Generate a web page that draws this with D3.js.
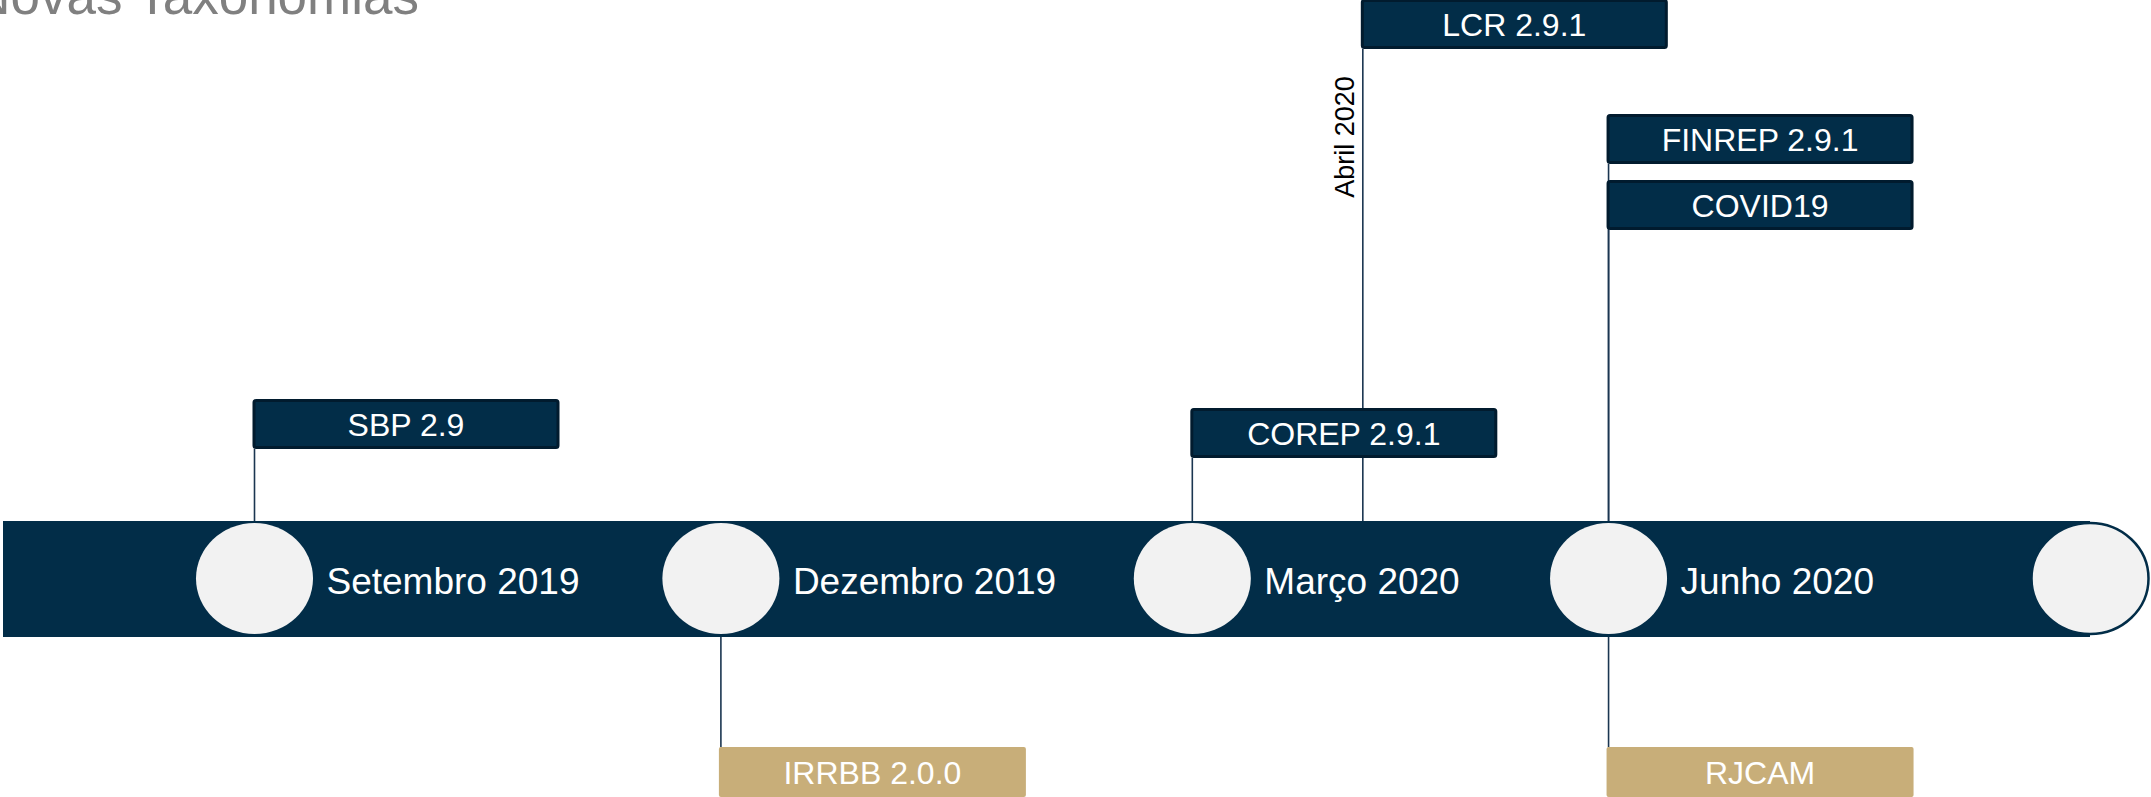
<!DOCTYPE html>
<html>
<head>
<meta charset="utf-8">
<script src="https://cdn.jsdelivr.net/npm/d3@7"></script>
<style>
  html, body { margin: 0; padding: 0; background: #fff; overflow: hidden; }
  svg { display: block; font-family: "Liberation Sans", Arial, sans-serif; }
</style>
</head>
<body>
<script>
// timeline milestones (circles on the band)
const milestoneLabels = ["Setembro 2019", "Dezembro 2019", "Março 2020", "Junho 2020", ""];
const milestoneDates = ["2019-09-01", "2019-12-03", "2020-03-06", "2020-05-28", "2020-09-01"];

// taxonomy releases hanging off the timeline
const eventNames = ["SBP 2.9", "IRRBB 2.0.0", "COREP 2.9.1", "LCR 2.9.1", "FINREP 2.9.1", "COVID19", "RJCAM"];
const eventDates = ["2019-09-01", "2019-12-03", "2020-03-06", "2020-04-09", "2020-05-28", "2020-05-28", "2020-05-28"];
const eventTiers = ["near", "below", "near2", "top", "upper", "upper2", "below"];
const eventKinds = ["navy", "gold", "navy", "navy", "navy", "navy", "gold"];

// side notes written along a connector
const noteTexts = ["Abril 2020"];
const noteDates = ["2020-04-09"];

const title = "Novas Taxonomias";

// --------------------------------------------------------------------------
const width = 2151, height = 797;
const navy = "#022d48", navyEdge = "#011b2e", gold = "#c8ae79", light = "#f2f2f2", lineColor = "#1b3651";

const band = { left: 3, top: 521, height: 116 };
const box = { width: 307, height: 50, offset: 2 };

const parse = d3.utcParse("%Y-%m-%d");

const x = d3.scaleUtc()
    .domain([parse(milestoneDates[0]), parse(milestoneDates[milestoneDates.length - 1])])
    .range([254.5, 2090]);

const tierY = d3.scaleOrdinal()
    .domain(["top", "upper", "upper2", "near", "near2", "below"])
    .range([-1, 114, 180, 399, 408, 747]);

const milestones = milestoneLabels.map((label, i) => ({ label, date: parse(milestoneDates[i]) }));
const events = eventNames.map((name, i) => ({
    name,
    date: parse(eventDates[i]),
    tier: eventTiers[i],
    kind: eventKinds[i]
}));
const notes = noteTexts.map((text, i) => ({ text, date: parse(noteDates[i]) }));

const svg = d3.select("body").append("svg")
    .attr("width", width)
    .attr("height", height);

// title, cut by the top edge like the source slide
svg.append("text")
    .attr("x", 419)
    .attr("y", 14)
    .attr("text-anchor", "end")
    .attr("font-size", 53)
    .attr("fill", "#808080")
    .text(title);

// connectors (behind boxes)
const bandBottom = band.top + band.height;
svg.append("g")
    .attr("stroke", lineColor)
    .attr("stroke-width", 1.6)
    .selectAll("line")
    .data(events)
    .join("line")
    .attr("x1", d => x(d.date))
    .attr("x2", d => x(d.date))
    .attr("y1", d => d.tier === "below" ? bandBottom : tierY(d.tier) + box.height)
    .attr("y2", d => d.tier === "below" ? tierY(d.tier) : band.top);

// notes along connectors
svg.append("g")
    .selectAll("text")
    .data(notes)
    .join("text")
    .attr("transform", d => `translate(${x(d.date) - 9},${137}) rotate(-90)`)
    .attr("text-anchor", "middle")
    .attr("font-size", 27)
    .attr("fill", "#000")
    .text(d => d.text);

// the band
const last = milestones[milestones.length - 1];
svg.append("rect")
    .attr("x", band.left)
    .attr("y", band.top)
    .attr("width", x(last.date) - band.left)
    .attr("height", band.height)
    .attr("fill", navy);

const ms = svg.append("g")
    .selectAll("g")
    .data(milestones)
    .join("g")
    .attr("transform", d => `translate(${x(d.date)},${band.top + band.height / 2 - 0.5})`);

ms.append("ellipse")
    .attr("rx", 58.5)
    .attr("ry", 55.5)
    .attr("fill", light)
    .attr("stroke", (d, i) => i === milestones.length - 1 ? navy : "none")
    .attr("stroke-width", 2.5);

ms.append("text")
    .attr("x", 72)
    .attr("y", 15)
    .attr("font-size", 37)
    .attr("fill", "#fff")
    .text(d => d.label);

// event boxes
const ev = svg.append("g")
    .selectAll("g")
    .data(events)
    .join("g")
    .attr("transform", d => `translate(${x(d.date) - box.offset},${tierY(d.tier)})`);

ev.append("rect")
    .attr("x", d => d.kind === "navy" ? 1.5 : 0)
    .attr("y", d => d.kind === "navy" ? 1.5 : 0)
    .attr("width", d => d.kind === "navy" ? box.width - 3 : box.width)
    .attr("height", d => d.kind === "navy" ? box.height - 3 : box.height)
    .attr("rx", 2)
    .attr("fill", d => d.kind === "navy" ? navy : gold)
    .attr("stroke", d => d.kind === "navy" ? navyEdge : "none")
    .attr("stroke-width", 3);

ev.append("text")
    .attr("x", box.width / 2)
    .attr("y", box.height / 2 + 12)
    .attr("text-anchor", "middle")
    .attr("font-size", 32)
    .attr("fill", "#fff")
    .text(d => d.name);
</script>
</body>
</html>
